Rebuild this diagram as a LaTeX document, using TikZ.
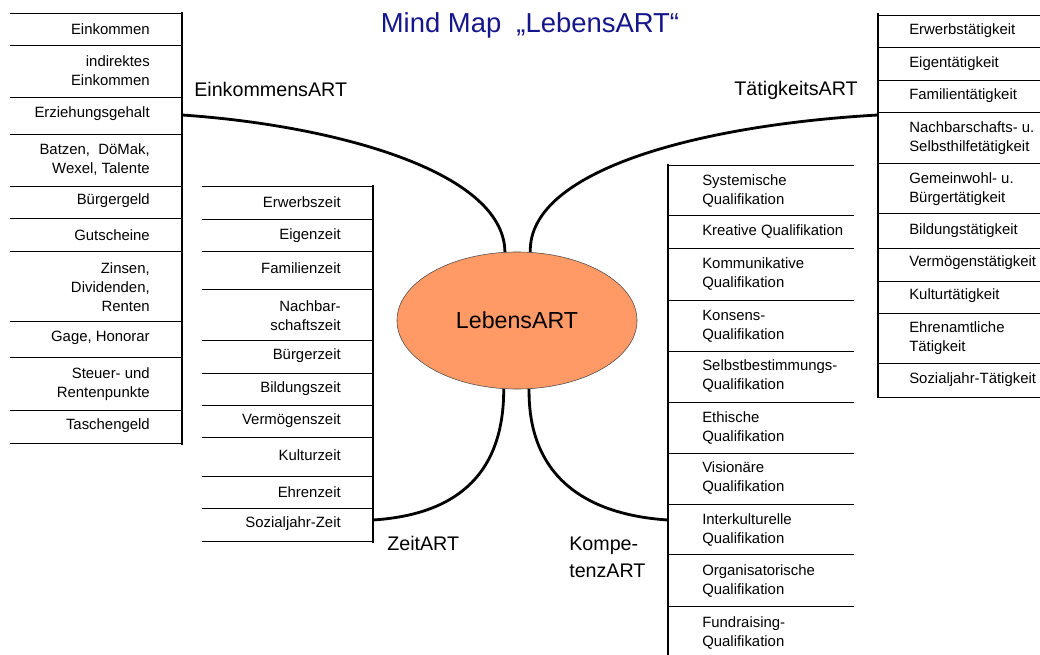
\documentclass[tikz,border=0pt]{standalone}
\usepackage{fontspec}
\setmainfont{Liberation Sans}
\usetikzlibrary{shapes.geometric}

\definecolor{titleblue}{RGB}{22,22,140}
\definecolor{lebensorange}{RGB}{255,153,102}

\tikzset{
    item/.style={font=\fontsize{10.6}{13.5}\selectfont, inner sep=0pt},
    rightitem/.style={item, anchor=east, align=right},
    leftitem/.style={item, anchor=west, align=left},
    sep/.style={line width=0.6pt},
    spine/.style={line width=2pt},
    branch/.style={line width=2pt},
    artlabel/.style={font=\fontsize{14}{19}\selectfont, inner sep=0pt}
}

\begin{document}
\begin{tikzpicture}[x=0.025cm, y=-0.025cm]
    \useasboundingbox (0,0) rectangle (1040,655);

    \node[font=\fontsize{19.5}{23}\selectfont, text=titleblue, inner sep=0pt] (title) at (530,25) {Mind Map\ \ „LebensART“};

    \node[ellipse, draw=black!70, thin, fill=lebensorange, minimum width=6cm, minimum height=3.425cm, inner sep=0pt,
          font=\fontsize{16.5}{20}\selectfont] (leben) at (517,320.5) {LebensART};

    %EinkommensART
    \foreach \y in {13,45,97,134,186,218,251,321,357,410,443}
        \draw[sep] (10,\y) -- (182,\y);
    \draw[spine] (182,12) -- (182,445);
    \foreach \y/\t [count=\i] in {29/Einkommen, 71/{indirektes\\Einkommen}, 114/Erziehungsgehalt,
        160/{Batzen,\ \ DöMak,\\Wexel, Talente}, 201/Bürgergeld, 235/Gutscheine,
        287/{Zinsen,\\Dividenden,\\Renten}, 338/{Gage, Honorar}, 384/{Steuer- und\\Rentenpunkte}, 426/Taschengeld}
        \node[rightitem] (ek\i) at (150,\y) {\t};
    \node[artlabel, anchor=west] (einkommensart) at (194,89) {EinkommensART};
    \coordinate (ekj) at (182,115);

    %ZeitART
    \foreach \y in {186,219,251,289,340,373,405,437,476,508,541}
        \draw[sep] (202,\y) -- (373,\y);
    \draw[spine] (373,185) -- (373,543);
    \foreach \y/\t [count=\i] in {202/Erwerbszeit, 236/Eigenzeit, 268/Familienzeit, 316/{Nachbar-\\schaftszeit},
        356/Bürgerzeit, 389/Bildungszeit, 421/Vermögenszeit, 455/Kulturzeit, 492/Ehrenzeit, 524/Sozialjahr-Zeit}
        \node[rightitem] (zt\i) at (341,\y) {\t};
    \node[artlabel, anchor=west] (zeitart) at (387,543) {ZeitART};
    \coordinate (ztj) at (373,520);

    %KompetenzART
    \foreach \y in {165,215,248,300,351,402,453,504,554,606}
        \draw[sep] (668,\y) -- (854,\y);
    \draw[spine] (668,164) -- (668,655);
    \foreach \y/\t [count=\i] in {191/{Systemische\\Qualifikation}, 232/{Kreative Qualifikation},
        274/{Kommunikative\\Qualifikation}, 326/{Konsens-\\Qualifikation}, 376/{Selbstbestimmungs-\\Qualifikation},
        428/{Ethische\\Qualifikation}, 478/{Visionäre\\Qualifikation}, 530/{Interkulturelle\\Qualifikation},
        581/{Organisatorische\\Qualifikation}, 633/{Fundraising-\\Qualifikation}}
        \node[leftitem] (kq\i) at (702,\y) {\t};
    \node[artlabel, anchor=west, align=left] (kompetenzart) at (569,557) {Kompe-\\tenzART};
    \coordinate (kqj) at (668,520);

    %TätigkeitsART
    \foreach \y in {15,47,80,112,163,213,248,281,313,363,397}
        \draw[sep] (878,\y) -- (1040,\y);
    \draw[spine] (878,13) -- (878,398);
    \foreach \y/\t [count=\i] in {31/Erwerbstätigkeit, 64/Eigentätigkeit, 96/Familientätigkeit,
        138/{Nachbarschafts- u.\\Selbsthilfetätigkeit}, 189/{Gemeinwohl- u.\\Bürgertätigkeit}, 231/Bildungstätigkeit,
        263/Vermögenstätigkeit, 296/Kulturtätigkeit, 338/{Ehrenamtliche\\Tätigkeit}, 380/Sozialjahr-Tätigkeit}
        \node[leftitem] (tk\i) at (909,\y) {\t};
    \node[artlabel, anchor=east] (taetigkeitsart) at (858,90) {TätigkeitsART};
    \coordinate (tkj) at (878,115);

    %Branches
    \draw[branch] (ekj) .. controls (330,125) and (504,170) .. (leben.100.7);
    \draw[branch] (tkj) .. controls (700,125) and (528,170) .. (leben.79.3);
    \draw[branch] (leben.259.3) .. controls (504,480) and (450,515) .. (ztj);
    \draw[branch] (leben.280.7) .. controls (528,480) and (590,515) .. (kqj);
\end{tikzpicture}
\end{document}
